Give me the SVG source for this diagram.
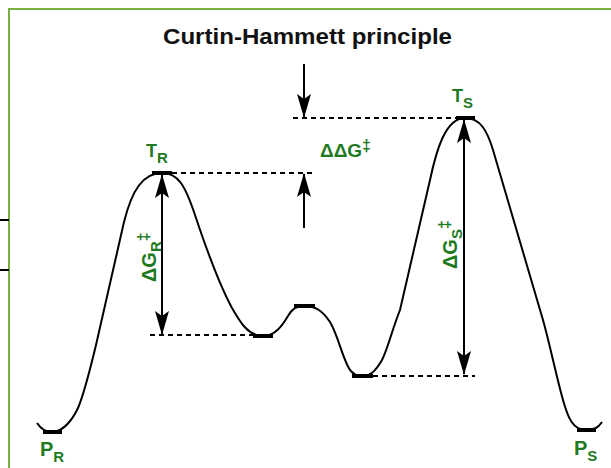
<svg xmlns="http://www.w3.org/2000/svg" width="611" height="468" viewBox="0 0 611 468">
<style>
.frame{fill:none;stroke:#77b041;stroke-width:2}
.curve{fill:none;stroke:#000;stroke-width:2}
.bar{fill:#000}
.dash{fill:none;stroke:#000;stroke-width:2;stroke-dasharray:5,4}
.arr{fill:none;stroke:#000;stroke-width:2}
.lbl{font-family:"Liberation Sans",Arial,sans-serif;font-weight:bold;fill:#1f7a1f}
.title{font-family:"Liberation Sans",Arial,sans-serif;font-weight:bold;fill:#111;font-size:22px}
</style>
<defs>
<marker id="ah" markerUnits="userSpaceOnUse" markerWidth="24" markerHeight="14" refX="23" refY="7" orient="auto-start-reverse" viewBox="0 0 24 14">
<path d="M0,0 L24,7 L0,14 L5,7 Z" fill="#000"/>
</marker>
</defs>
<rect width="611" height="468" fill="#fff"/>
<g id="frame">
<path class="frame" d="M9,468 V9 H611"/>
<path d="M0,220 H9 M0,270 H9" stroke="#000" stroke-width="2"/>
</g>
<text id="title" class="title" x="163" y="44" textLength="289" lengthAdjust="spacingAndGlyphs">Curtin-Hammett principle</text>
<g id="energy-profile">
<path class="curve" d="M37,423 C41,429 46,432 52,432 C60,432 70,425 78,408 C84,394 90,370 96,345 L124,222 C132,190 143,173 162,173 C178,173 185,185 195,215 C205,245 218,282 232,308 C240,322 248,336 263,336 C275,336 282,326 288,316 C292,309 296,306 304,306 C315,306 322,310 330,322 C338,335 343,360 350,370 C355,376 358,376 362,376 C370,376 375,372 382,360 C388,348 392,330 400,310 L430,180 C436,152 445,118 465,118 C480,118 487,130 493,150 L543,320 C550,345 556,375 563,400 C568,418 573,430 586,430 C594,430 598,428 602,422"/>
</g>
<g id="PR"><rect class="bar" x="43" y="430" width="19" height="4"/><text class="lbl" x="40" y="456" font-size="20">P<tspan font-size="15" dy="6">R</tspan></text></g>
<g id="TR"><rect class="bar" x="152" y="171" width="20" height="4"/><text class="lbl" x="146" y="157" font-size="18">T<tspan font-size="15" dy="6">R</tspan></text></g>
<g id="I1"><rect class="bar" x="253" y="334" width="20" height="4"/></g>
<g id="I2"><rect class="bar" x="294" y="304" width="21" height="4"/></g>
<g id="I3"><rect class="bar" x="352" y="374" width="21" height="4"/></g>
<g id="TS"><rect class="bar" x="456" y="116" width="19" height="4"/><text class="lbl" x="452" y="102" font-size="18">T<tspan font-size="15" dy="6">S</tspan></text></g>
<g id="PS"><rect class="bar" x="577" y="428" width="19" height="4"/><text class="lbl" x="574" y="455" font-size="20">P<tspan font-size="15" dy="6">S</tspan></text></g>
<g id="connectors">
<path class="dash" d="M172,173 H314"/>
<path class="dash" d="M293,118 H456"/>
<path class="dash" d="M150,335 H253"/>
<path class="dash" d="M373,376 H475"/>
<path class="arr" d="M304,64 V117" marker-end="url(#ah)"/>
<path class="arr" d="M304,228 V174" marker-end="url(#ah)"/>
<path class="arr" d="M162,175 V334" marker-start="url(#ah)" marker-end="url(#ah)"/>
<path class="arr" d="M464,120 V374" marker-start="url(#ah)" marker-end="url(#ah)"/>
</g>
<g id="labels">
<text class="lbl" x="320" y="157" font-size="19">ΔΔG<tspan font-size="16" dy="-6">‡</tspan></text>
<text class="lbl" transform="translate(156,282) rotate(-90)" font-size="20">ΔG<tspan font-size="15" dy="5">R</tspan><tspan font-size="16" dy="-12">‡</tspan></text>
<text class="lbl" transform="translate(457,269) rotate(-90)" font-size="20">ΔG<tspan font-size="15" dy="5">S</tspan><tspan font-size="16" dy="-12">‡</tspan></text>
</g>
</svg>
